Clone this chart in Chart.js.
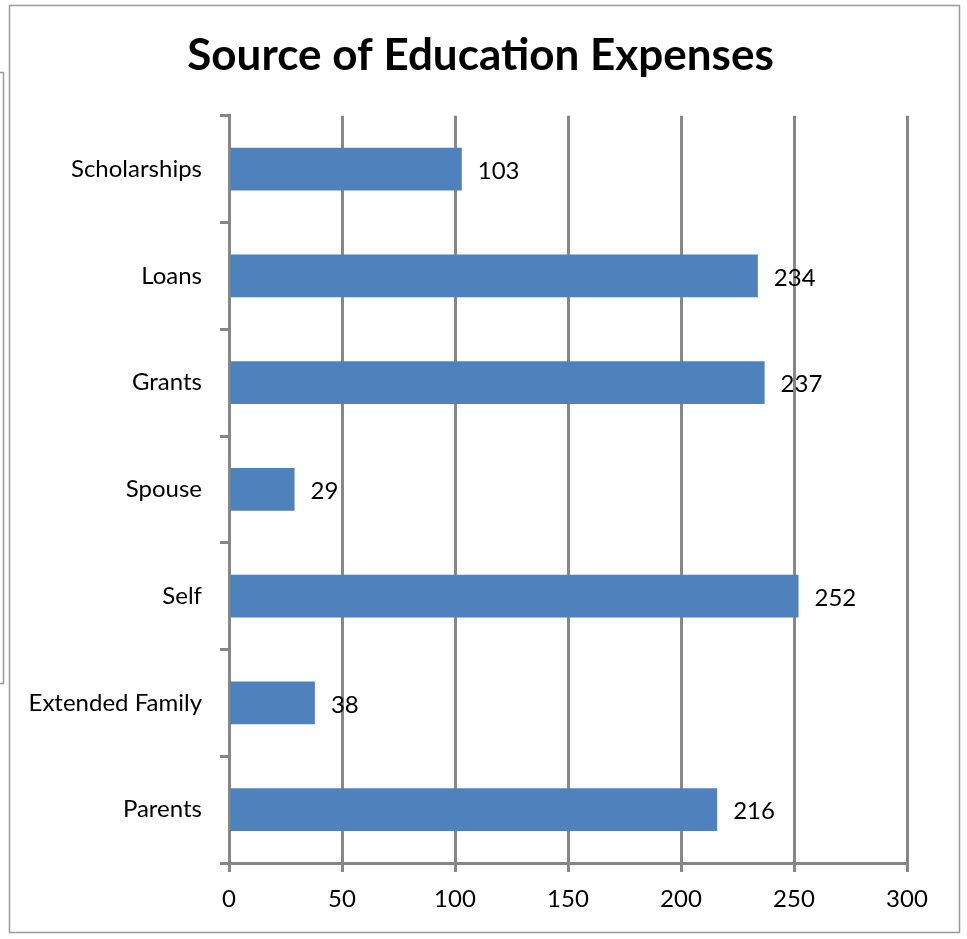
<!DOCTYPE html>
<html>
<head>
<meta charset="utf-8">
<script src="https://cdn.jsdelivr.net/npm/chart.js@4/dist/chart.umd.min.js"></script>
<style>
  html, body { margin: 0; padding: 0; background: #ffffff; }
  #wrap { width: 967px; height: 939px; }
</style>
</head>
<body>
<div id="wrap"><canvas id="c" width="967" height="939"></canvas></div>
<script>
// Funding sources, top to bottom
const categories = ['Scholarships', 'Loans', 'Grants', 'Spouse', 'Self', 'Extended Family', 'Parents'];
const counts = [103, 234, 237, 29, 252, 38, 216];
const xTicks = [0, 50, 100, 150, 200, 250, 300];

const AXIS_GRAY = '#878787';
const LABEL_FONT = 'Lato, "Open Sans", sans-serif';

// Outer chart frame plus the edge of the neighbouring panel on the left
const framePlugin = {
  id: 'frame',
  afterLayout(chart) {
    // centre the title within the framed panel rather than the padded area
    const t = chart.titleBlock;
    if (t) {
      t.left = 27;
      t.right = 934;
      t.width = t.right - t.left;
    }
  },
  beforeDraw(chart) {
    const ctx = chart.ctx;
    ctx.save();
    ctx.fillStyle = '#ffffff';
    ctx.fillRect(0, 0, chart.width, chart.height);
    ctx.strokeStyle = '#9a9a9a';
    ctx.lineWidth = 1.5;
    ctx.strokeRect(9.5, 5.5, 950, 927);
    ctx.beginPath();
    ctx.moveTo(0, 72.5);
    ctx.lineTo(3.5, 72.5);
    ctx.lineTo(3.5, 683.5);
    ctx.lineTo(0, 683.5);
    ctx.stroke();
    ctx.restore();
  }
};

// Value printed just past the end of each bar
const valueLabels = {
  id: 'valueLabels',
  afterDatasetsDraw(chart) {
    const ctx = chart.ctx;
    const meta = chart.getDatasetMeta(0);
    const xs = chart.scales.x;
    ctx.save();
    ctx.font = '24px ' + LABEL_FONT;
    ctx.fillStyle = '#000000';
    ctx.textAlign = 'left';
    ctx.textBaseline = 'middle';
    meta.data.forEach((bar, i) => {
      const v = chart.data.datasets[0].data[i];
      ctx.fillText(String(v), xs.getPixelForValue(v) + 16, bar.y + 2);
    });
    ctx.restore();
  }
};

new Chart(document.getElementById('c'), {
  type: 'bar',
  data: {
    labels: categories,
    datasets: [{
      data: counts,
      backgroundColor: '#4F81BD',
      borderWidth: 0,
      barPercentage: 0.4,
      categoryPercentage: 1.0
    }]
  },
  options: {
    indexAxis: 'y',
    responsive: false,
    animation: false,
    layout: { padding: { top: 0, right: 60, bottom: 0, left: 20 } },
    plugins: {
      legend: { display: false },
      tooltip: { enabled: false },
      title: {
        display: true,
        text: 'Source of Education Expenses',
        color: '#000000',
        font: { family: LABEL_FONT, size: 44, weight: 'bold', lineHeight: 1.2 },
        padding: { top: 29, bottom: 34 }
      }
    },
    scales: {
      x: {
        min: 0,
        max: 300,
        afterBuildTicks(scale) { scale.ticks = xTicks.map(v => ({ value: v })); },
        afterFit(scale) { scale.height = 76; },
        grid: {
          color: AXIS_GRAY,
          lineWidth: 3,
          drawTicks: true,
          tickLength: 9,
          tickColor: AXIS_GRAY,
          tickWidth: 3
        },
        border: { display: true, color: AXIS_GRAY, width: 3 },
        ticks: {
          color: '#000000',
          padding: 13,
          font: { family: LABEL_FONT, size: 24 }
        }
      },
      y: {
        afterFit(scale) { scale.width = 209; },
        grid: {
          offset: true,
          drawOnChartArea: false,
          drawTicks: true,
          tickLength: 9,
          tickColor: AXIS_GRAY,
          tickWidth: 3
        },
        border: { display: true, color: AXIS_GRAY, width: 3 },
        ticks: {
          color: '#000000',
          padding: 18,
          font: { family: LABEL_FONT, size: 24 }
        }
      }
    }
  },
  plugins: [framePlugin, valueLabels]
});
</script>
</body>
</html>
